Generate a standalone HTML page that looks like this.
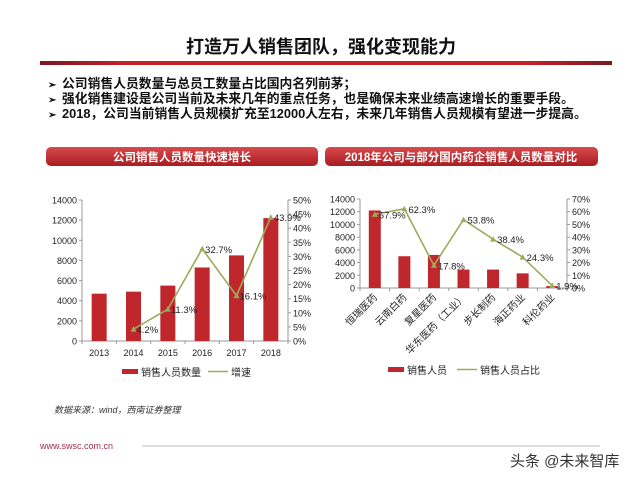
<!DOCTYPE html>
<html><head><meta charset="utf-8"><style>
body{margin:0;background:#fff;}
svg text{font-family:"Liberation Sans","Noto Sans CJK SC",sans-serif;}
</style></head><body>
<svg width="640" height="480" viewBox="0 0 640 480" xmlns="http://www.w3.org/2000/svg">
<defs>
<linearGradient id="rl" x1="0" x2="1" y1="0" y2="0">
<stop offset="0" stop-color="#7a1a1e"/><stop offset="0.15" stop-color="#c8202a"/><stop offset="0.85" stop-color="#c8202a"/><stop offset="1" stop-color="#7a1a1e"/></linearGradient>
<linearGradient id="pill" x1="0" x2="0" y1="0" y2="1">
<stop offset="0" stop-color="#d84a4c"/><stop offset="1" stop-color="#a81d22"/></linearGradient>
</defs>
<text x="321" y="53" text-anchor="middle" font-size="18" font-weight="bold" fill="#111">打造万人销售团队，强化变现能力</text>
<rect x="40" y="61" width="572" height="4" fill="url(#rl)"/>
<g font-size="12.8" font-weight="bold" fill="#111">
<text x="48" y="88" font-size="10">➢</text><text x="62" y="88">公司销售人员数量与总员工数量占比国内名列前茅；</text>
<text x="48" y="103" font-size="10">➢</text><text x="62" y="103">强化销售建设是公司当前及未来几年的重点任务，也是确保未来业绩高速增长的重要手段。</text>
<text x="48" y="118" font-size="10">➢</text><text x="62" y="118">2018，公司当前销售人员规模扩充至12000人左右，未来几年销售人员规模有望进一步提高。</text>
</g>
<rect x="46" y="147" width="272" height="19" rx="5" fill="url(#pill)"/>
<text x="182" y="161" text-anchor="middle" font-size="11.5" font-weight="bold" fill="#fff">公司销售人员数量快速增长</text>
<rect x="325" y="147" width="273" height="19" rx="5" fill="url(#pill)"/>
<text x="461" y="161" text-anchor="middle" font-size="11.5" font-weight="bold" fill="#fff">2018年公司与部分国内药企销售人员数量对比</text>
<g id="c1"></g>
<g id="c2"></g>
<text x="54" y="413" font-size="9" font-style="italic" fill="#333">数据来源：wind，西南证券整理</text>
<text x="40" y="449" font-size="9" fill="#a0304a">www.swsc.com.cn</text>
<line x1="142" y1="446" x2="600" y2="446" stroke="#bbb" stroke-width="1"/>
<text x="510" y="466" font-size="15" fill="#333">头条 @未来智库</text>
</svg>
<script>
const years=["2013","2014","2015","2016","2017","2018"];
const staff=[4700,4900,5500,7300,8500,12200];
const growth=[null,4.2,11.3,32.7,16.1,43.9];
const leftTicks=[0,2000,4000,6000,8000,10000,12000,14000];
const rightTicks1=[0,5,10,15,20,25,30,35,40,45,50];
const companies=["恒瑞医药","云南白药","复星医药","华东医药（工业）","步长制药","海正药业","科伦药业"];
const compStaff=[12200,5000,5200,2900,2900,2300,300];
const compRatio=[57.9,62.3,17.8,53.8,38.4,24.3,1.9];
const rightTicks2=[0,10,20,30,40,50,60,70];
const NS="http://www.w3.org/2000/svg";
function mk(p,tag,a,txt){const e=document.createElementNS(NS,tag);for(const k in a)e.setAttribute(k,a[k]);if(txt!=null)e.textContent=txt;p.appendChild(e);return e;}
function chart(g,o){
 const {x0,x1,y0,y1,cats,bars,line,lt,rt,rmax,fs,rot,barW,labelDx,legY,leg1,leg2,leg1x,leg2x}=o;
 const n=cats.length,bw=(x1-x0)/n;
 const X=i=>x0+bw*(i+0.5), Y=v=>y0-(v/14000)*(y0-y1), Y2=v=>y0-(v/rmax)*(y0-y1);
 let e;
 e=mk(g,'line',{x1:x0,y1:y1,x2:x0,y2:y0,stroke:'#999'});
 e=mk(g,'line',{x1:x1,y1:y1,x2:x1,y2:y0,stroke:'#999'});
 e=mk(g,'line',{x1:x0,y1:y0,x2:x1,y2:y0,stroke:'#999'});
 lt.forEach(v=>{mk(g,'line',{x1:x0-3,x2:x0,y1:Y(v),y2:Y(v),stroke:'#999'});
  e=mk(g,'text',{x:x0-5,y:Y(v)+3.5,'text-anchor':'end','font-size':fs,fill:'#222'},v);});
 rt.forEach(v=>{mk(g,'line',{x1:x1,x2:x1+3,y1:Y2(v),y2:Y2(v),stroke:'#999'});
  e=mk(g,'text',{x:x1+5,y:Y2(v)+3.5,'font-size':fs,fill:'#222'},v+'%');});
 for(let i=0;i<=n;i++)mk(g,'line',{x1:x0+bw*i,x2:x0+bw*i,y1:y0,y2:y0+3,stroke:'#999'});
 cats.forEach((c,i)=>{
  e=mk(g,'rect',{x:X(i)-barW/2,y:Y(bars[i]),width:barW,height:y0-Y(bars[i]),fill:'#c0272d'});
  if(rot){e=mk(g,'text',{x:X(i)+3,y:y0+10,'text-anchor':'end','font-size':10,fill:'#222',transform:`rotate(-45 ${X(i)+3} ${y0+10})`},c);}
  else{e=mk(g,'text',{x:X(i),y:y0+15,'text-anchor':'middle','font-size':fs,fill:'#222'},c);}
  
 });
 const pts=[];line.forEach((v,i)=>{if(v!=null)pts.push([X(i),Y2(v),v]);});
 e=mk(g,'polyline',{points:pts.map(p=>p[0]+','+p[1]).join(' '),fill:'none',stroke:'#9aab5a','stroke-width':1.6});
 pts.forEach(p=>{e=mk(g,'path',{d:`M${p[0]-3},${p[1]+2.5}L${p[0]+3},${p[1]+2.5}L${p[0]},${p[1]-3}Z`,fill:'#9aab5a'});
  e=mk(g,'text',{x:p[0]+labelDx,y:p[1]+4,'font-size':fs+0.5,fill:'#222'},p[2].toFixed(1)+'%');});
 e=mk(g,'rect',{x:leg1x,y:legY-4,width:16,height:5,fill:'#c0272d'});
 e=mk(g,'text',{x:leg1x+19,y:legY+3,'font-size':10,fill:'#222'},leg1);
 e=mk(g,'line',{x1:leg2x,x2:leg2x+20,y1:legY-1.5,y2:legY-1.5,stroke:'#9aab5a','stroke-width':1.6});
 e=mk(g,'text',{x:leg2x+23,y:legY+3,'font-size':10,fill:'#222'},leg2);
}
chart(document.getElementById('c1'),{x0:82,x1:288,y0:341,y1:200,cats:years,bars:staff,line:growth,lt:leftTicks,rt:rightTicks1,rmax:50,fs:9,rot:false,barW:15,labelDx:3,legY:373,leg1:'销售人员数量',leg2:'增速',leg1x:122,leg2x:208});
chart(document.getElementById('c2'),{x0:360,x1:567,y0:288,y1:199,cats:companies,bars:compStaff,line:compRatio,lt:leftTicks,rt:rightTicks2,rmax:70,fs:9,rot:true,barW:12,labelDx:4,legY:371,leg1:'销售人员',leg2:'销售人员占比',leg1x:388,leg2x:457});
</script>
</body></html>
